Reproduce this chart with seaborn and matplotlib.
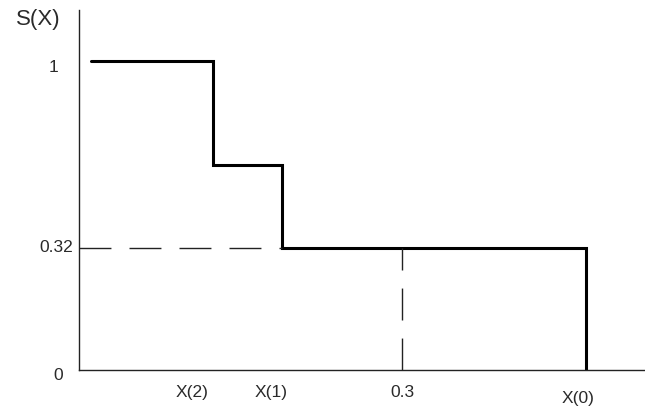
import numpy as np
import matplotlib
matplotlib.use("Agg")
import matplotlib.pyplot as plt
import seaborn as sns

# ---- data ----
step_x = [0.011, 0.1245, 0.1885, 0.471]     # start, X(2), X(1), X(0)
step_s = [1.0, 0.62, 0.32, 0.0]             # survival levels
ref_x = 0.3                                 # marked value on x axis
ref_s = 0.32                                # marked level on S axis
xlabel_pos = [0.105, 0.178, 0.3, 0.4635]
xlabel_txt = ["X(2)", "X(1)", "0.3", "X(0)"]
ylabel_txt = ["1", "0.32", "0"]
ylabel_val = [1.0, 0.32, 0.0]

sns.set_style("white")
plt.rcParams["font.family"] = ["Liberation Sans", "DejaVu Sans"]

fig = plt.figure(figsize=(6.45, 4.11), dpi=100)
ax = fig.add_axes([79 / 645, 41 / 411, 566 / 645, 360 / 411])

# the S axis of the sketch is not drawn to scale: 0.32 sits at ~0.395 of the height
def fwd(y):
    y = np.asarray(y, dtype=float)
    return np.where(y < 0.32, y * 0.395 / 0.32, 0.395 + (y - 0.32) * (0.605 / 0.68))

def inv(p):
    p = np.asarray(p, dtype=float)
    return np.where(p < 0.395, p * 0.32 / 0.395, 0.32 + (p - 0.395) * (0.68 / 0.605))

ax.set_yscale("function", functions=(fwd, inv))

sns.lineplot(x=step_x, y=step_s, ax=ax, drawstyle="steps-post", color="black",
             linewidth=2.2, estimator=None, sort=False, solid_joinstyle="miter")

ax.plot([0, step_x[2]], [ref_s, ref_s], color="#222222", linewidth=1.0,
        dashes=(23, 13))
ax.plot([ref_x, ref_x], [0, ref_s], color="#222222", linewidth=1.0,
        dashes=(23, 13))

ax.set_xlim(0, 0.5257)
ax.set_ylim(0, inv(1.165))

for s in ["top", "right"]:
    ax.spines[s].set_visible(False)
for s in ["left", "bottom"]:
    ax.spines[s].set_color("#222222")
    ax.spines[s].set_linewidth(1.0)

ax.set_xticks([])
ax.set_yticks([ref_s])
ax.set_yticklabels([""])
ax.tick_params(axis="y", length=2, width=1.0, color="#222222")

tc = "#2a2a2a"
fs = 12.5
# x labels
offs = [-22, -22, -22, -28]
for xp, t, o in zip(xlabel_pos, xlabel_txt, offs):
    ax.annotate(t, xy=(xp, 0), xytext=(0, o), textcoords="offset pixels",
                ha="center", va="center", fontsize=fs, color=tc)
# y labels
yoffs = [(-25, -7), (-6, 0), (-21, -5)]
for v, t, (dx, dy) in zip(ylabel_val, ylabel_txt, yoffs):
    ax.annotate(t, xy=(0, v), xytext=(dx, dy), textcoords="offset pixels",
                ha="right" if t == "0.32" else "center", va="center",
                fontsize=fs, color=tc)

fig.text(38 / 645, 1 - 19 / 411, "S(X)", ha="center", va="center",
         fontsize=16, color=tc)

fig.savefig("out.png", dpi=100)
